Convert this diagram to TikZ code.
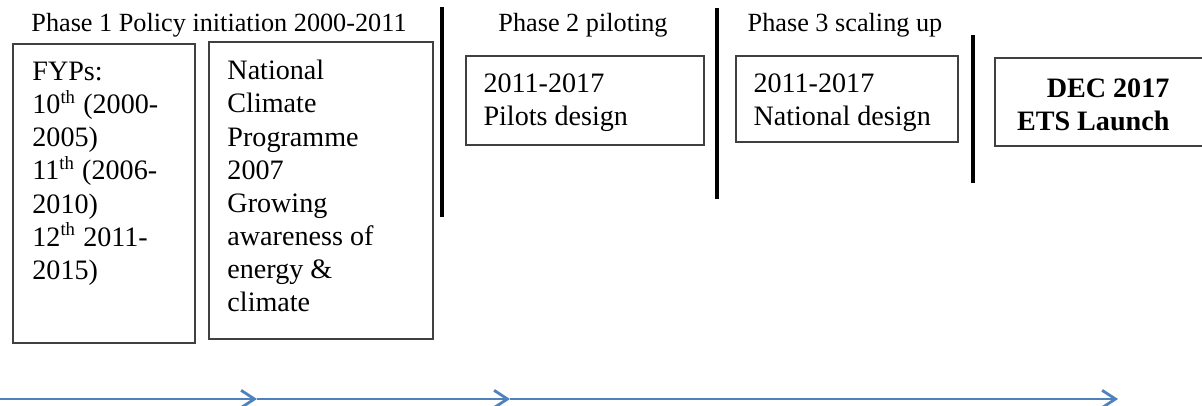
\documentclass[tikz,border=0pt]{standalone}
\usepackage{fontspec}
\setmainfont{Liberation Serif}
\usetikzlibrary{arrows.meta,positioning}
\definecolor{tlblue}{RGB}{79,129,189}

\begin{document}
\begin{tikzpicture}[
  x=0.015cm, y=-0.015cm,
  frame/.style={draw=black!75, line width=0.8pt, anchor=north west, inner sep=0pt},
  txt/.style={align=left, inner sep=0pt, font=\fontsize{12}{14.1}\selectfont},
  title/.style={anchor=base, inner sep=0pt, font=\fontsize{11.2}{13}\selectfont},
  divider/.style={line width=1.8pt, black},
  flow/.style={-{Straight Barb[length=2mm, width=2.6mm]}, line width=1.2pt, tlblue}
]
\useasboundingbox (0,0) rectangle (1202,406);

% phase titles
\node[title] (ph1) at (219,32) {Phase 1 Policy initiation 2000-2011};
\node[title] (ph2) at (583,32) {Phase 2 piloting};
\node[title] (ph3) at (845,32) {Phase 3 scaling up};

% boxes
\node[frame, minimum width=2.73cm, minimum height=4.485cm] (fypbox) at (12,43) {};
\node[frame, minimum width=3.36cm, minimum height=4.455cm] (ncpbox) at (208,41) {};
\node[frame, minimum width=3.57cm, minimum height=1.335cm] (pilotbox) at (465,55) {};
\node[frame, minimum width=3.33cm, minimum height=1.29cm] (natbox) at (735,55) {};
\node[frame, minimum width=3.18cm, minimum height=1.32cm] (etsbox) at (994,57) {};

\node[txt, below right=8.1pt and 8.5pt of fypbox.north west] (fyp)
  {FYPs:\\10\textsuperscript{th} (2000-\\2005)\\11\textsuperscript{th} (2006-\\2010)\\12\textsuperscript{th} 2011-\\2015)};
\node[txt, below right=8.1pt and 8.1pt of ncpbox.north west] (ncp)
  {National\\Climate\\Programme\\2007\\Growing\\awareness of\\energy \&\\climate};
\node[txt, below right=7.7pt and 7.7pt of pilotbox.north west] (pilot)
  {2011-2017\\Pilots design};
\node[txt, below right=7.7pt and 7.7pt of natbox.north west] (nat)
  {2011-2017\\National design};
\node[txt, align=right, font=\fontsize{12}{14.3}\selectfont\bfseries,
  below left=0.315cm and 0.57cm of etsbox.north east] (ets)
  {DEC 2017\\ETS Launch};

% phase dividers
\draw[divider] (442,7) -- (442,217);
\draw[divider] (717,8) -- (717,199);
\draw[divider] (973,35) -- (973,183);

% timeline
\coordinate (t0) at (0,399);
\coordinate (t1) at (257,399);
\coordinate (t2) at (510,399);
\coordinate (t3) at (1118,399);
\draw[flow] (t0) -- (t1);
\draw[flow] (t1) -- (t2);
\draw[flow] (t2) -- (t3);
\end{tikzpicture}
\end{document}
